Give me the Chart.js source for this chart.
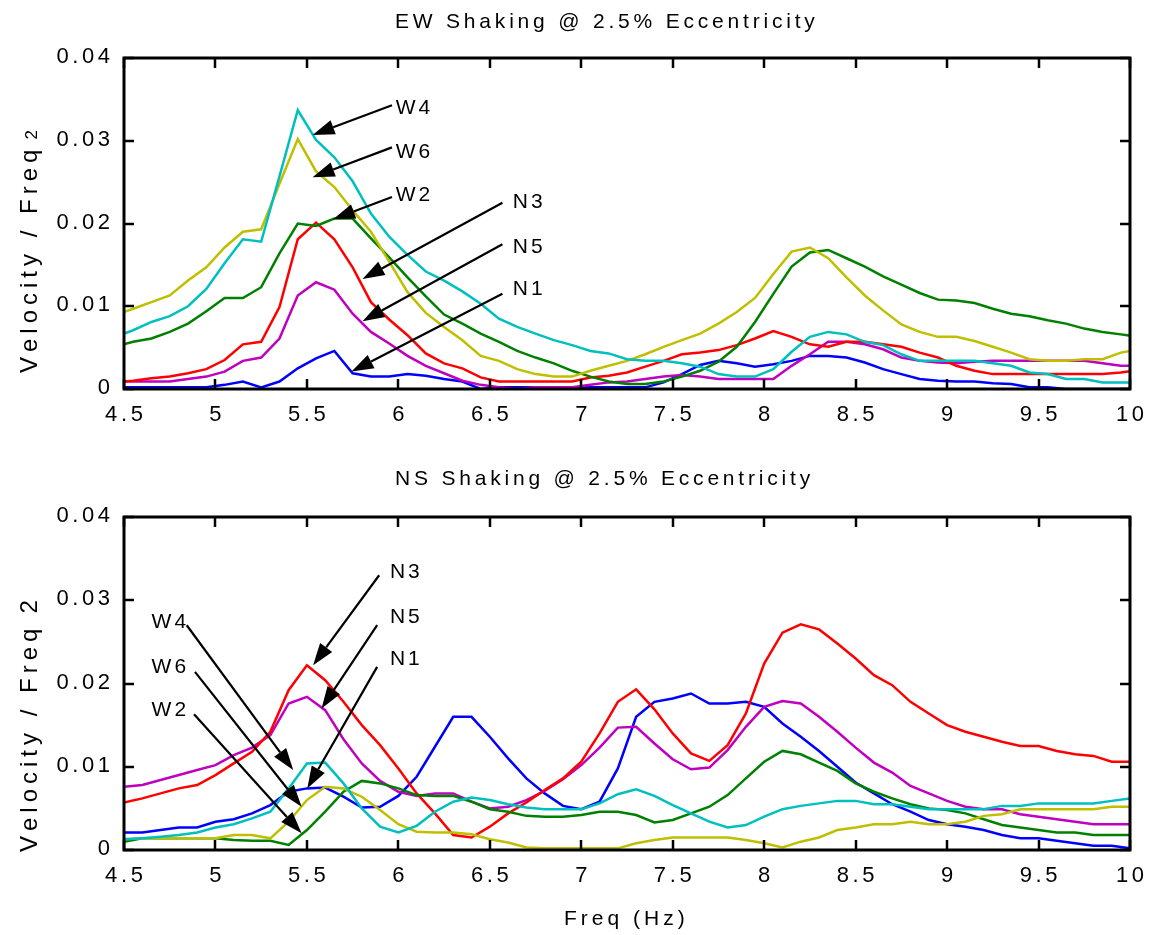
<!DOCTYPE html>
<html>
<head>
<meta charset="utf-8">
<script src="https://cdn.jsdelivr.net/npm/chart.js@4.4.1/dist/chart.umd.min.js"></script>
<style>
  body { margin: 0; background: #fff; }
  #wrap { position: relative; width: 1157px; height: 935px; }
  canvas { position: absolute; left: 0; }
</style>
</head>
<body>
<div id="wrap">
  <canvas id="ewChart" width="1157" height="460" style="top:0"></canvas>
  <canvas id="nsChart" width="1157" height="475" style="top:460px"></canvas>
</div>
<script>
// Частоти (Гц)
const freqEW = [4.45, 4.55, 4.65, 4.75, 4.85, 4.95, 5.05, 5.15, 5.25, 5.35,
  5.45, 5.55, 5.65, 5.75, 5.85, 5.95, 6.05, 6.15, 6.25, 6.35,
  6.45, 6.55, 6.65, 6.75, 6.85, 6.95, 7.05, 7.15, 7.25, 7.35,
  7.45, 7.55, 7.65, 7.75, 7.85, 7.95, 8.05, 8.15, 8.25, 8.35,
  8.45, 8.55, 8.65, 8.75, 8.85, 8.95, 9.05, 9.15, 9.25, 9.35,
  9.45, 9.55, 9.65, 9.75, 9.85, 9.95, 10.05];
const freqNS = [4.5, 4.6, 4.7, 4.8, 4.9, 5.0, 5.1, 5.2, 5.3, 5.4,
  5.5, 5.6, 5.7, 5.8, 5.9, 6.0, 6.1, 6.2, 6.3, 6.4,
  6.5, 6.6, 6.7, 6.8, 6.9, 7.0, 7.1, 7.2, 7.3, 7.4,
  7.5, 7.6, 7.7, 7.8, 7.9, 8.0, 8.1, 8.2, 8.3, 8.4,
  8.5, 8.6, 8.7, 8.8, 8.9, 9.0, 9.1, 9.2, 9.3, 9.4,
  9.5, 9.6, 9.7, 9.8, 9.9, 10.0];

// Значення у тисячних (x 0.001)
const ewW4 = [6.3, 7.1, 8.1, 8.8, 10.0, 12.1, 15.2, 18.1, 17.8, 25.7,
  33.7, 30.1, 28.0, 25.1, 21.2, 18.4, 16.2, 14.2, 13.1, 11.8,
  10.3, 8.5, 7.5, 6.7, 5.9, 5.3, 4.6, 4.3, 3.6, 3.4,
  3.4, 3.1, 2.7, 1.8, 1.5, 1.5, 2.4, 4.5, 6.3, 6.9,
  6.6, 5.7, 5.3, 4.2, 3.4, 3.4, 3.4, 3.4, 3.1, 2.8,
  2.0, 1.8, 1.2, 1.2, 0.8, 0.8, 0.8];
const ewW6 = [8.9, 9.7, 10.5, 11.3, 13.1, 14.7, 17.1, 19.0, 19.3, 24.8,
  30.2, 26.3, 24.4, 21.6, 19.0, 15.4, 11.7, 9.2, 7.5, 5.9,
  4.0, 3.4, 2.4, 1.8, 1.5, 1.5, 2.2, 2.8, 3.4, 4.2,
  5.1, 5.9, 6.7, 7.9, 9.3, 11.0, 13.9, 16.6, 17.1, 15.8,
  13.5, 11.3, 9.5, 7.8, 6.9, 6.3, 6.3, 5.8, 5.1, 4.4,
  3.6, 3.4, 3.4, 3.6, 3.6, 4.4, 4.8];
const ewW2 = [5.1, 5.7, 6.1, 6.9, 7.9, 9.4, 11.0, 11.0, 12.3, 16.4,
  20.0, 19.7, 20.6, 20.6, 18.2, 15.9, 13.5, 11.2, 9.0, 7.9,
  6.7, 5.7, 4.6, 3.8, 3.1, 2.2, 1.5, 0.9, 0.6, 0.6,
  0.9, 1.5, 2.2, 3.3, 5.1, 8.1, 11.5, 14.8, 16.5, 16.8,
  15.8, 14.8, 13.6, 12.6, 11.6, 10.8, 10.7, 10.4, 9.7, 9.1,
  8.8, 8.3, 7.9, 7.3, 6.9, 6.6, 6.3];
const ewN3 = [0.8, 1.0, 1.3, 1.5, 1.9, 2.4, 3.5, 5.4, 5.7, 9.9,
  18.1, 20.1, 18.1, 14.7, 10.5, 8.4, 6.5, 4.3, 3.1, 2.5,
  1.4, 0.9, 0.9, 0.9, 0.9, 0.9, 1.4, 1.6, 2.0, 2.7,
  3.4, 4.2, 4.4, 4.7, 5.3, 6.1, 7.0, 6.3, 5.4, 5.1,
  5.7, 5.7, 5.4, 5.1, 4.4, 3.8, 2.8, 2.2, 1.8, 1.8,
  1.8, 1.8, 1.8, 1.8, 1.8, 2.0, 2.3];
const ewN5 = [0.9, 0.9, 0.9, 0.9, 1.2, 1.5, 2.1, 3.4, 3.8, 6.1,
  11.3, 12.9, 12.0, 9.1, 6.9, 5.5, 4.0, 2.8, 1.9, 1.0,
  0.5, 0.2, 0.0, 0.2, 0.2, 0.2, 0.5, 0.8, 0.9, 1.2,
  1.5, 1.7, 1.5, 1.2, 1.2, 1.2, 1.2, 2.8, 4.2, 5.7,
  5.7, 5.4, 4.8, 3.8, 3.4, 3.2, 3.1, 3.3, 3.4, 3.4,
  3.4, 3.4, 3.4, 3.4, 3.1, 2.8, 2.8];
const ewN1 = [0.2, 0.2, 0.2, 0.2, 0.2, 0.2, 0.5, 0.9, 0.2, 0.9,
  2.5, 3.7, 4.6, 1.9, 1.5, 1.5, 1.8, 1.6, 1.2, 0.9,
  0.0, 0.2, 0.2, 0.2, 0.2, 0.2, 0.2, 0.2, 0.2, 0.2,
  0.8, 1.8, 2.9, 3.4, 3.1, 2.7, 3.0, 3.4, 4.0, 4.0,
  3.8, 3.2, 2.4, 1.8, 1.2, 1.0, 0.9, 0.9, 0.7, 0.6,
  0.2, 0.2, 0.0, 0.0, 0.0, 0.0, 0.0];

const nsW4 = [1.3, 1.4, 1.6, 1.8, 2.1, 2.7, 3.1, 3.8, 4.6, 7.4,
  10.4, 10.5, 8.0, 5.0, 2.8, 2.1, 2.9, 4.6, 5.8, 6.3,
  6.0, 5.5, 5.1, 4.9, 4.9, 4.9, 5.6, 6.7, 7.3, 6.5,
  5.4, 4.4, 3.4, 2.7, 3.0, 4.0, 4.9, 5.3, 5.6, 5.9,
  5.9, 5.5, 5.5, 5.2, 4.9, 4.9, 4.9, 4.9, 5.3, 5.3,
  5.6, 5.6, 5.6, 5.6, 5.9, 6.2];
const nsW6 = [1.3, 1.4, 1.4, 1.4, 1.4, 1.4, 1.8, 1.8, 1.4, 3.4,
  6.0, 7.6, 7.4, 6.4, 4.8, 3.1, 2.2, 2.1, 2.1, 1.9,
  1.3, 0.9, 0.3, 0.2, 0.2, 0.2, 0.2, 0.2, 0.8, 1.2,
  1.5, 1.5, 1.5, 1.5, 1.2, 0.8, 0.3, 1.0, 1.5, 2.4,
  2.7, 3.1, 3.1, 3.4, 3.1, 3.1, 3.4, 4.1, 4.3, 4.9,
  4.9, 4.9, 4.9, 4.9, 5.2, 5.2];
const nsW2 = [1.0, 1.4, 1.4, 1.4, 1.4, 1.4, 1.2, 1.1, 1.1, 0.6,
  2.4, 4.6, 7.0, 8.3, 8.0, 7.4, 6.6, 6.5, 6.5, 5.8,
  4.9, 4.6, 4.1, 4.0, 4.0, 4.2, 4.6, 4.6, 4.2, 3.3,
  3.6, 4.4, 5.2, 6.6, 8.6, 10.6, 11.9, 11.5, 10.5, 9.5,
  8.0, 7.0, 6.2, 5.5, 5.0, 4.8, 4.4, 3.7, 3.0, 2.7,
  2.4, 2.1, 2.1, 1.8, 1.8, 1.8];
const nsN3 = [5.7, 6.2, 6.8, 7.4, 7.8, 9.0, 10.4, 11.8, 14.2, 19.2,
  22.2, 20.4, 17.8, 15.0, 12.6, 9.8, 6.8, 4.4, 1.8, 1.5,
  2.8, 4.4, 5.7, 7.2, 8.6, 10.6, 14.0, 17.8, 19.3, 16.9,
  14.0, 11.6, 10.7, 12.6, 16.4, 22.4, 26.1, 27.1, 26.5, 24.8,
  23.0, 21.0, 19.8, 17.8, 16.4, 15.0, 14.2, 13.6, 13.0, 12.5,
  12.5, 11.9, 11.5, 11.3, 10.6, 10.6];
const nsN5 = [7.6, 7.8, 8.4, 9.0, 9.6, 10.2, 11.4, 12.3, 13.8, 17.6,
  18.4, 16.8, 13.3, 10.4, 8.3, 7.0, 6.5, 6.8, 6.8, 5.8,
  5.0, 5.2, 6.0, 7.1, 8.5, 10.2, 12.3, 14.7, 14.8, 12.8,
  10.9, 9.7, 9.9, 12.0, 14.8, 17.2, 17.9, 17.6, 16.0, 14.2,
  12.3, 10.5, 9.3, 7.7, 6.8, 5.9, 5.2, 4.9, 4.9, 4.3,
  4.0, 3.7, 3.4, 3.1, 3.1, 3.1];
const nsN1 = [2.1, 2.1, 2.4, 2.7, 2.7, 3.4, 3.7, 4.4, 5.4, 7.0,
  7.4, 7.5, 6.4, 5.1, 5.2, 6.5, 8.8, 12.4, 16.0, 16.0,
  13.6, 11.0, 8.6, 6.8, 5.3, 4.9, 5.8, 9.8, 16.0, 17.8,
  18.2, 18.8, 17.6, 17.6, 17.8, 17.2, 15.2, 13.6, 11.9, 10.0,
  8.1, 6.8, 5.5, 4.6, 3.6, 3.1, 2.8, 2.4, 1.8, 1.4,
  1.4, 1.1, 0.8, 0.5, 0.5, 0.2];

const seriesNames = ['W4', 'W6', 'W2', 'N3', 'N5', 'N1'];
const seriesColors = ['#00bfbf', '#bfbf00', '#008000', '#ff0000', '#bf00bf', '#0000ff'];

// Поділки осей
const xTicks = [4.5, 5, 5.5, 6, 6.5, 7, 7.5, 8, 8.5, 9, 9.5, 10];
const xTickLabels = ['4.5', '5', '5.5', '6', '6.5', '7', '7.5', '8', '8.5', '9', '9.5', '10'];
const yTicks = [0, 0.01, 0.02, 0.03, 0.04];
const yTickLabels = ['0', '0.01', '0.02', '0.03', '0.04'];

// Стрілки з підписами (в одиницях даних: частота, тисячні)
const ewArrows = [
  { text: 'W4', tail: [5.965, 34.3], tip: [5.531, 30.7], at: [5.986, 33.2] },
  { text: 'W6', tail: [5.965, 29.2], tip: [5.531, 25.6], at: [5.986, 27.9] },
  { text: 'W2', tail: [5.965, 23.2], tip: [5.643, 20.5], at: [5.986, 22.7] },
  { text: 'N3', tail: [6.569, 22.5], tip: [5.804, 13.3], at: [6.626, 21.9] },
  { text: 'N5', tail: [6.569, 17.5], tip: [5.804, 8.2], at: [6.626, 16.4] },
  { text: 'N1', tail: [6.569, 11.5], tip: [5.744, 2.1], at: [6.626, 11.4] }
];
const nsArrows = [
  { text: 'N3', tail: [5.895, 33.0], tip: [5.534, 22.2], at: [5.954, 32.7] },
  { text: 'N5', tail: [5.884, 27.0], tip: [5.580, 17.0], at: [5.954, 27.3] },
  { text: 'N1', tail: [5.884, 22.0], tip: [5.502, 7.4], at: [5.954, 22.2] },
  { text: 'W4', tail: [4.843, 27.0], tip: [5.425, 9.6], at: [4.651, 26.7] },
  { text: 'W6', tail: [4.888, 21.4], tip: [5.471, 5.2], at: [4.651, 21.3] },
  { text: 'W2', tail: [4.883, 16.3], tip: [5.471, 2.0], at: [4.651, 16.1] }
];

const FONT = '"Liberation Sans", Arial, Helvetica, sans-serif';

// Текст з розрідженими літерами
function spacedText(ctx, text, x, y, spacing, align) {
  const chars = Array.from(text);
  const widths = chars.map(c => ctx.measureText(c).width);
  const total = widths.reduce((s, w) => s + w, 0) + spacing * (chars.length - 1);
  let cx = x;
  if (align === 'center') cx = x - total / 2;
  else if (align === 'right') cx = x - total;
  ctx.textAlign = 'left';
  chars.forEach((c, i) => {
    ctx.fillText(c, cx, y);
    cx += widths[i] + spacing;
  });
  return cx;
}

function drawArrow(ctx, x1, y1, x2, y2) {
  const ang = Math.atan2(y2 - y1, x2 - x1);
  const len = 22, half = 7.5;
  const bx = x2 - len * Math.cos(ang);
  const by = y2 - len * Math.sin(ang);
  ctx.beginPath();
  ctx.moveTo(x1, y1);
  ctx.lineTo(bx, by);
  ctx.stroke();
  ctx.beginPath();
  ctx.moveTo(x2, y2);
  ctx.lineTo(bx + half * Math.sin(ang), by - half * Math.cos(ang));
  ctx.lineTo(bx - half * Math.sin(ang), by + half * Math.cos(ang));
  ctx.closePath();
  ctx.fill();
}

const figurePlugin = {
  id: 'figure',
  afterDatasetsDraw(chart, args, opts) {
    const ctx = chart.ctx;
    const a = chart.chartArea;
    const xs = chart.scales.x, ys = chart.scales.y;
    ctx.save();
    ctx.strokeStyle = '#000';
    ctx.fillStyle = '#000';
    ctx.textBaseline = 'alphabetic';

    // рамка та внутрішні поділки
    ctx.lineWidth = 3;
    ctx.strokeRect(a.left, a.top, a.right - a.left, a.bottom - a.top);
    ctx.lineWidth = 2.5;
    ctx.beginPath();
    xTicks.forEach(v => {
      const px = Math.round(xs.getPixelForValue(v));
      ctx.moveTo(px, a.bottom); ctx.lineTo(px, a.bottom - 10);
      ctx.moveTo(px, a.top); ctx.lineTo(px, a.top + 10);
    });
    yTicks.forEach(v => {
      const py = Math.round(ys.getPixelForValue(v));
      ctx.moveTo(a.left, py); ctx.lineTo(a.left + 10, py);
      ctx.moveTo(a.right, py); ctx.lineTo(a.right - 10, py);
    });
    ctx.stroke();

    // підписи поділок
    ctx.font = '22px ' + FONT;
    xTicks.forEach((v, i) => {
      spacedText(ctx, xTickLabels[i], xs.getPixelForValue(v), a.bottom + 32, 3.6, 'center');
    });
    yTicks.forEach((v, i) => {
      spacedText(ctx, yTickLabels[i], a.left - 14, ys.getPixelForValue(v) + 5, 3.6, 'right');
    });

    // стрілки
    ctx.lineWidth = 2.2;
    opts.arrows.forEach(ar => {
      drawArrow(ctx,
        xs.getPixelForValue(ar.tail[0]), ys.getPixelForValue(ar.tail[1] / 1000),
        xs.getPixelForValue(ar.tip[0]), ys.getPixelForValue(ar.tip[1] / 1000));
    });
    ctx.font = '21px ' + FONT;
    opts.arrows.forEach(ar => {
      spacedText(ctx, ar.text, xs.getPixelForValue(ar.at[0]), ys.getPixelForValue(ar.at[1] / 1000), 3, 'left');
    });

    // заголовок
    ctx.font = '21px ' + FONT;
    spacedText(ctx, opts.title, opts.titleX, opts.titleY, 3.8, 'left');

    // підпис осі X
    if (opts.xLabel) {
      spacedText(ctx, opts.xLabel, opts.xLabelX, opts.xLabelY, 4, 'left');
    }

    // підпис осі Y (повернутий)
    ctx.translate(opts.yLabelX, opts.yLabelY);
    ctx.rotate(-Math.PI / 2);
    ctx.font = '24px ' + FONT;
    let end = spacedText(ctx, opts.yLabel, 0, 0, opts.ySpacing, 'left');
    ctx.font = opts.ySubSize + 'px ' + FONT;
    spacedText(ctx, '2', end + opts.ySubGap, 0, 0, 'left');
    ctx.restore();
  }
};

function buildDatasets(freq, series) {
  return series.map((vals, i) => ({
    label: seriesNames[i],
    data: freq.map((f, j) => ({ x: f, y: vals[j] / 1000 })),
    borderColor: seriesColors[i],
    backgroundColor: seriesColors[i],
    borderWidth: 2.5,
    pointRadius: 0,
    tension: 0,
    fill: false
  }));
}

function makeChart(id, freq, series, fig, padTop, xHeight) {
  return new Chart(document.getElementById(id), {
    type: 'line',
    data: { datasets: buildDatasets(freq, series) },
    plugins: [figurePlugin],
    options: {
      responsive: false,
      animation: false,
      devicePixelRatio: 1,
      layout: { padding: { top: padTop, right: 27, left: 0, bottom: 0 } },
      plugins: {
        legend: { display: false },
        tooltip: { enabled: false },
        figure: fig
      },
      scales: {
        x: {
          type: 'linear', min: 4.5, max: 10,
          ticks: { display: false, stepSize: 0.5 },
          grid: { display: false }, border: { display: false },
          afterFit: s => { s.height = xHeight; }
        },
        y: {
          min: 0, max: 0.04,
          ticks: { display: false, stepSize: 0.01 },
          grid: { display: false }, border: { display: false },
          afterFit: s => { s.width = 124; }
        }
      }
    }
  });
}

makeChart('ewChart', freqEW, [ewW4, ewW6, ewW2, ewN3, ewN5, ewN1], {
  arrows: ewArrows,
  title: 'EW Shaking @ 2.5% Eccentricity', titleX: 395, titleY: 28,
  yLabel: 'Velocity / Freq', yLabelX: 37, yLabelY: 373, ySpacing: 5, ySubSize: 17, ySubGap: 5
}, 58, 71);

makeChart('nsChart', freqNS, [nsW4, nsW6, nsW2, nsN3, nsN5, nsN1], {
  arrows: nsArrows,
  title: 'NS Shaking @ 2.5% Eccentricity', titleX: 395, titleY: 25,
  xLabel: 'Freq (Hz)', xLabelX: 564, xLabelY: 465,
  yLabel: 'Velocity / Freq', yLabelX: 37, yLabelY: 392, ySpacing: 5, ySubSize: 24, ySubGap: 10
}, 57, 85);
</script>
</body>
</html>
